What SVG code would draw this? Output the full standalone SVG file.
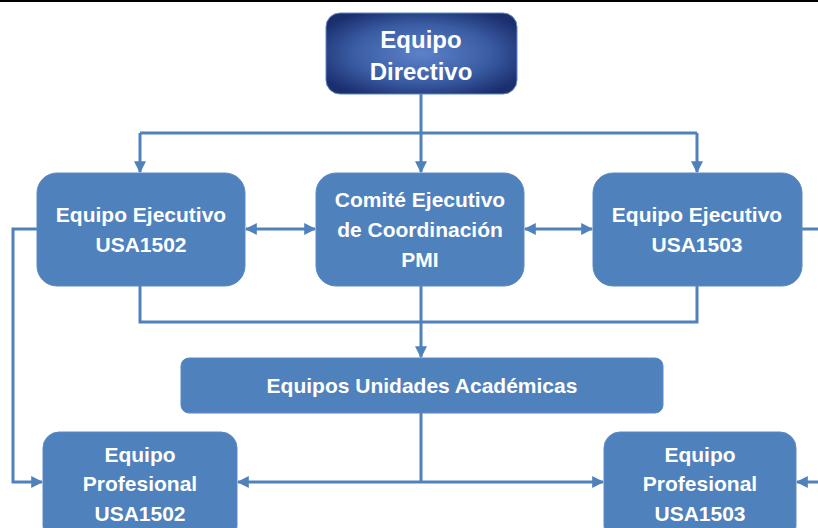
<svg xmlns="http://www.w3.org/2000/svg" width="818" height="528" viewBox="0 0 818 528">
<defs>
<style>
.box{fill:#4f81bd;stroke:#5a8ac6;stroke-width:1}
.t{font-family:"Liberation Sans",Arial,sans-serif;font-weight:bold;font-size:21px;fill:#fff;text-anchor:middle}
.ln{fill:none;stroke:#4f81bd;stroke-width:3}
</style>
<radialGradient id="gDir" cx="0.5" cy="0.5" r="0.6">
<stop offset="0" stop-color="#5d82c9"/>
<stop offset="0.6" stop-color="#3a5ca3"/>
<stop offset="1" stop-color="#1b2f6e"/>
</radialGradient>
<marker id="ah" viewBox="0 0 10 10" refX="9" refY="5" markerWidth="4" markerHeight="4" orient="auto-start-reverse" markerUnits="strokeWidth">
<path d="M0,0 L10,5 L0,10 z" fill="#4f81bd"/>
</marker>
</defs>
<rect x="0" y="0" width="818" height="2" fill="#000"/>
<g id="connectors">
<path class="ln" d="M421,94 V133"/>
<path class="ln" d="M140,133 H697"/>
<path class="ln" d="M140,133 V172" marker-end="url(#ah)"/>
<path class="ln" d="M421,133 V172" marker-end="url(#ah)"/>
<path class="ln" d="M697,133 V172" marker-end="url(#ah)"/>
<path class="ln" d="M246,229 H315" marker-start="url(#ah)" marker-end="url(#ah)"/>
<path class="ln" d="M525,229 H592" marker-start="url(#ah)" marker-end="url(#ah)"/>
<path class="ln" d="M140,286 V322 H697 V286"/>
<path class="ln" d="M421,286 V357" marker-end="url(#ah)"/>
<path class="ln" d="M37,229 H13 V482 H42" marker-end="url(#ah)"/>
<path class="ln" d="M802,229 H818"/>
<path class="ln" d="M818,482 H797" marker-end="url(#ah)"/>
<path class="ln" d="M421,413 V482"/>
<path class="ln" d="M238,482 H603" marker-start="url(#ah)" marker-end="url(#ah)"/>
</g>
<g id="equipo-directivo">
<rect x="326" y="13" width="191" height="81" rx="14" fill="url(#gDir)" stroke="#5a8ac6" stroke-width="1"/>
<text class="t" x="421" y="48" style="font-size:24px">Equipo</text>
<text class="t" x="421" y="80" style="font-size:24px">Directivo</text>
</g>
<g id="ejecutivo-1502">
<rect class="box" x="37" y="173" width="208" height="113" rx="20"/>
<text class="t" x="141" y="222">Equipo Ejecutivo</text>
<text class="t" x="141" y="252">USA1502</text>
</g>
<g id="comite">
<rect class="box" x="316" y="173" width="208" height="113" rx="20"/>
<text class="t" x="420" y="207">Comité Ejecutivo</text>
<text class="t" x="420" y="237">de Coordinación</text>
<text class="t" x="420" y="267">PMI</text>
</g>
<g id="ejecutivo-1503">
<rect class="box" x="593" y="173" width="209" height="113" rx="20"/>
<text class="t" x="697" y="222">Equipo Ejecutivo</text>
<text class="t" x="697" y="252">USA1503</text>
</g>
<g id="unidades">
<rect class="box" x="181" y="358" width="482" height="55" rx="8"/>
<text class="t" x="422" y="393">Equipos Unidades Académicas</text>
</g>
<g id="profesional-1502">
<rect class="box" x="43" y="432" width="194" height="110" rx="16"/>
<text class="t" x="140" y="462">Equipo</text>
<text class="t" x="140" y="491">Profesional</text>
<text class="t" x="140" y="521">USA1502</text>
</g>
<g id="profesional-1503">
<rect class="box" x="604" y="432" width="192" height="110" rx="16"/>
<text class="t" x="700" y="462">Equipo</text>
<text class="t" x="700" y="491">Profesional</text>
<text class="t" x="700" y="521">USA1503</text>
</g>
</svg>
